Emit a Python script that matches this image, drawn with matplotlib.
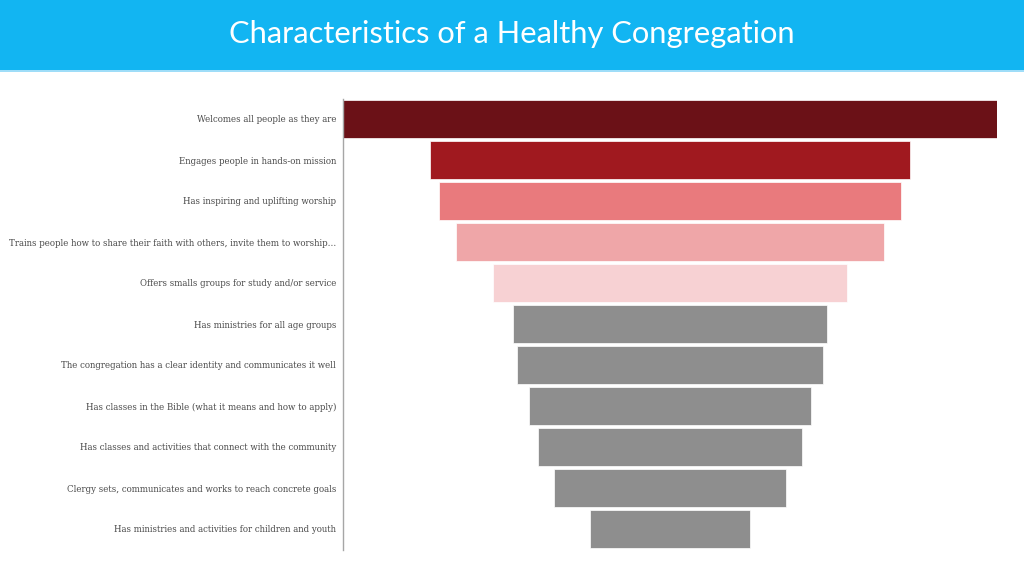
import matplotlib
matplotlib.use("Agg")
import matplotlib.pyplot as plt
from matplotlib.patches import Rectangle

categories = [
    "Welcomes all people as they are",
    "Engages people in hands-on mission",
    "Has inspiring and uplifting worship",
    "Trains people how to share their faith with others, invite them to worship\u2026",
    "Offers smalls groups for study and/or service",
    "Has ministries for all age groups",
    "The congregation has a clear identity and communicates it well",
    "Has classes in the Bible (what it means and how to apply)",
    "Has classes and activities that connect with the community",
    "Clergy sets, communicates and works to reach concrete goals",
    "Has ministries and activities for children and youth",
]
values = [100, 73.5, 70.5, 65.3, 54.1, 47.9, 46.9, 43.0, 40.5, 35.5, 24.6]
colors = ["#6B1117", "#A0191F", "#E97A7D", "#EFA6A8", "#F7D1D3",
          "#8E8E8E", "#8E8E8E", "#8E8E8E", "#8E8E8E", "#8E8E8E", "#8E8E8E"]
title = "Characteristics of a Healthy Congregation"

fig = plt.figure(figsize=(10.24, 5.76), dpi=100)
fig.patch.set_facecolor("white")

# title banner
fig.patches.append(Rectangle((0, 1 - 70/576), 1, 70/576, transform=fig.transFigure,
                             facecolor="#12B5F2", edgecolor="none", zorder=0))
fig.patches.append(Rectangle((0, 1 - 72/576), 1, 2/576, transform=fig.transFigure,
                             facecolor="#9FDDF8", edgecolor="none", zorder=0))
fig.text(0.5, 1 - 34/576, title, ha="center", va="center", color="white",
         fontsize=22.2, family="Lato", fontweight="normal", zorder=5)

ax = fig.add_axes([343/1024, 1 - 549.5/576, 654/1024, 451/576])
mx = max(values)
y = list(range(len(values)))
lefts = [(mx - v) / 2 for v in values]
ax.barh(y, values, left=lefts, height=0.93, color=colors, edgecolor="white", linewidth=0.5)
ax.set_xlim(0, mx)
ax.set_ylim(len(values) - 0.5, -0.5)
ax.set_yticks(y)
ax.set_yticklabels(categories, family="DejaVu Serif", fontsize=6.2, color="#4A4A4A")
ax.tick_params(axis="y", length=0, pad=5)
ax.set_xticks([])
for s in ["top", "right", "bottom"]:
    ax.spines[s].set_visible(False)
ax.spines["left"].set_color("#A6A6A6")
ax.spines["left"].set_linewidth(1)

fig.savefig("out.png", dpi=100)
